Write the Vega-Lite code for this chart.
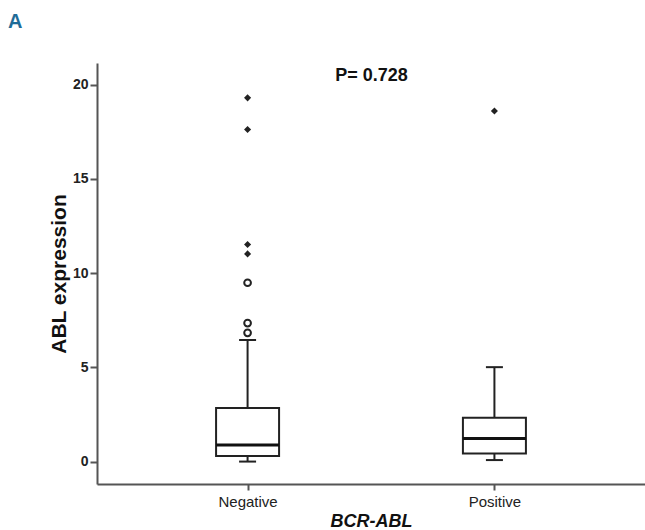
{
  "$schema": "https://vega.github.io/schema/vega-lite/v6.json",
  "width": 548,
  "height": 421,
  "autosize": "none",
  "padding": {"left": 97, "top": 63, "right": 0, "bottom": 46},
  "background": "white",
  "title": {
    "text": "A",
    "anchor": "start",
    "frame": "group",
    "dx": -89,
    "dy": -27,
    "fontSize": 20,
    "fontWeight": "bold",
    "font": "Liberation Sans Narrow, Liberation Sans",
    "color": "#1f6c98"
  },
  "datasets": {
    "boxes": [
      {"group": "Negative", "lower": 0.0, "q1": 0.29, "median": 0.88, "q3": 2.84, "upper": 6.45},
      {"group": "Positive", "lower": 0.08, "q1": 0.43, "median": 1.23, "q3": 2.32, "upper": 5.01}
    ],
    "mild": [
      {"group": "Negative", "value": 9.49},
      {"group": "Negative", "value": 7.35},
      {"group": "Negative", "value": 6.83}
    ],
    "extreme": [
      {"group": "Negative", "value": 19.3},
      {"group": "Negative", "value": 17.62},
      {"group": "Negative", "value": 11.52},
      {"group": "Negative", "value": 11.02},
      {"group": "Positive", "value": 18.6}
    ]
  },
  "encoding": {
    "y": {"type": "quantitative", "scale": {"domain": [-1.19, 21.15], "nice": false, "zero": false},
      "axis": {"title": "ABL expression", "values": [0, 5, 10, 15, 20], "labelFontSize": 14, "labelFontWeight": "bold", "labelColor": "#222",
        "labelPadding": 2, "titleFontSize": 21, "titleFontWeight": "bold", "titleColor": "#111", "titlePadding": 3,
        "domainColor": "#555", "domainWidth": 2, "tickColor": "#555", "tickWidth": 2, "tickSize": 7, "grid": false}}
  },
  "layer": [
    {
      "data": {"name": "boxes"},
      "mark": {"type": "rule", "color": "#222", "strokeWidth": 2},
      "encoding": {
        "x": {"field": "group", "type": "nominal", "scale": {"type": "point", "padding": 0.61, "domain": ["Negative", "Positive"]},
          "axis": {"orient": "bottom", "title": "BCR-ABL", "labelAngle": 0, "labelFontSize": 15, "labelColor": "#222", "labelPadding": 4,
            "titleFontSize": 18, "titleFontWeight": "bold", "titleFontStyle": "italic", "titleColor": "#111", "titlePadding": 3,
            "domainColor": "#555", "domainWidth": 2, "tickColor": "#555", "tickWidth": 2, "tickSize": 6}},
        "y": {"field": "lower"},
        "y2": {"field": "upper"}
      }
    },
    {
      "data": {"name": "boxes"},
      "mark": {"type": "bar", "size": 63, "fill": "white", "stroke": "#222", "strokeWidth": 2},
      "encoding": {
        "x": {"field": "group", "type": "nominal", "axis": null},
        "y": {"field": "q1"},
        "y2": {"field": "q3"}
      }
    },
    {
      "data": {"name": "boxes"},
      "mark": {"type": "tick", "size": 63, "thickness": 3, "color": "#111", "opacity": 1},
      "encoding": {
        "x": {"field": "group", "type": "nominal",
          "axis": {"orient": "top", "title": "P= 0.728", "labels": false, "ticks": false, "domain": false,
            "titleFontSize": 18, "titleFontWeight": "bold", "titleColor": "#111", "titleBaseline": "alphabetic", "titleY": 17}},
        "y": {"field": "median"}
      }
    },
    {
      "data": {"name": "boxes"},
      "mark": {"type": "tick", "size": 17, "thickness": 2, "color": "#222", "opacity": 1},
      "encoding": {
        "x": {"field": "group", "type": "nominal", "axis": null},
        "y": {"field": "upper"}
      }
    },
    {
      "data": {"name": "boxes"},
      "mark": {"type": "tick", "size": 17, "thickness": 2, "color": "#222", "opacity": 1},
      "encoding": {
        "x": {"field": "group", "type": "nominal", "axis": null},
        "y": {"field": "lower"}
      }
    },
    {
      "data": {"name": "mild"},
      "mark": {"type": "point", "shape": "circle", "filled": false, "size": 45, "stroke": "#222", "strokeWidth": 2, "opacity": 1},
      "encoding": {
        "x": {"field": "group", "type": "nominal", "axis": null},
        "y": {"field": "value"}
      }
    },
    {
      "data": {"name": "extreme"},
      "mark": {"type": "point", "shape": "diamond", "filled": true, "size": 50, "color": "#222", "opacity": 1},
      "encoding": {
        "x": {"field": "group", "type": "nominal", "axis": null},
        "y": {"field": "value"}
      }
    }
  ],
  "resolve": {"axis": {"x": "independent"}},
  "config": {
    "view": {"stroke": null},
    "font": "Liberation Sans",
    "axis": {"labelFont": "Liberation Sans", "titleFont": "Liberation Sans"}
  }
}
